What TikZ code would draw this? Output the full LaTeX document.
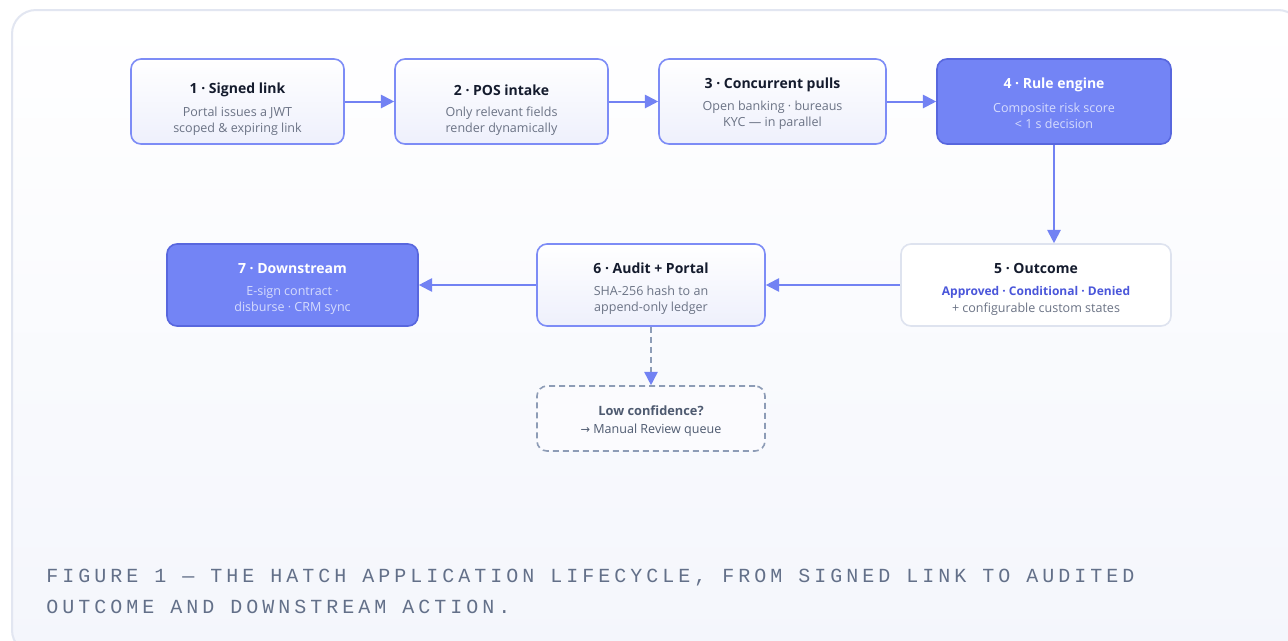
\documentclass[tikz,border=0pt]{standalone}
\usepackage{fontspec}
\setmainfont{Open Sans}
\newfontfamily\arrowfont{DejaVu Sans}
\newfontfamily\capfont[LetterSpace=20]{Liberation Mono}
\usetikzlibrary{arrows.meta,calc}

\definecolor{ink}{HTML}{141B2D}
\definecolor{subgray}{HTML}{6B7385}
\definecolor{flow}{HTML}{7282F3}
\definecolor{edgeblue}{HTML}{7D8CF6}
\definecolor{darkfill}{HTML}{7384F5}
\definecolor{darkedge}{HTML}{5867DE}
\definecolor{darksub}{HTML}{D6DCFD}
\definecolor{outblue}{HTML}{4A56DA}
\definecolor{paleedge}{HTML}{DEE3EF}
\definecolor{lightfoot}{HTML}{EEF0FC}
\definecolor{dashgray}{HTML}{8D9CB6}
\definecolor{capgray}{HTML}{637089}
\definecolor{frameedge}{HTML}{E2E6F1}
\definecolor{framefoot}{HTML}{F4F6FC}
\definecolor{reviewink}{HTML}{4E5A70}

\tikzset{
  sz/.style 2 args={minimum width=#1*0.75pt, minimum height=#2*0.75pt, inner sep=0pt},
  card/.style={rounded corners=7.5pt, line width=1.2pt},
  lightbox/.style={card, draw=edgeblue, top color=white, bottom color=lightfoot},
  darkbox/.style={card, draw=darkedge, fill=darkfill},
  plainbox/.style={card, draw=paleedge, fill=white},
  dashbox/.style={card, draw=dashgray, fill=white!60!framefoot, dash pattern=on 4.5pt off 3pt},
  ttl/.style={font=\fontsize{10.5pt}{12pt}\selectfont\bfseries, text=ink, inner sep=0pt},
  sub/.style={font=\fontsize{9.4pt}{12pt}\selectfont, text=subgray, align=center, inner sep=0pt},
  flowarrow/.style={draw=flow, line width=1.5pt, -{Triangle[length=10pt,width=10pt]}},
  caption/.style={font=\fontsize{15pt}{22pt}\selectfont\capfont, text=capgray, anchor=west, inner sep=0pt},
}

\begin{document}
\begin{tikzpicture}[x=0.75pt, y=-0.75pt]
  \useasboundingbox (0,0) rectangle (1288,640);
  \fill[white] (0,0) rectangle (1288,640);
  \begin{scope}
    \clip (0,0) rectangle (1288,640);
    \draw[frameedge, line width=1.5pt, rounded corners=18pt, top color=white, bottom color=framefoot]
      (12,10) rectangle (1302,654);
  \end{scope}

  % process cards
  \node[lightbox, sz={213}{85}] (b1) at (237.5,101.5) {};
  \node[lightbox, sz={213}{85}] (b2) at (501.5,101.5) {};
  \node[lightbox, sz={227}{85}] (b3) at (772.5,101.5) {};
  \node[darkbox,  sz={234}{85}] (b4) at (1054,101.5) {};
  \node[plainbox, sz={270}{82}] (b5) at (1036,285) {};
  \node[lightbox, sz={228}{82}] (b6) at (651,285) {};
  \node[darkbox,  sz={251}{82}] (b7) at (292.5,285) {};
  \node[dashbox,  sz={228}{65}] (b8) at (651,418.5) {};

  % card texts
  \node[ttl] (t1) at ($(b1.north)+(0,32)$) {1 · Signed link};
  \node[sub] (s1) at ($(b1.north)+(0,63.5)$) {Portal issues a JWT\\scoped \& expiring link};
  \node[ttl] (t2) at ($(b2.north)+(0,32)$) {2 · POS intake};
  \node[sub] (s2) at ($(b2.north)+(0,63.5)$) {Only relevant fields\\render dynamically};
  \node[ttl] (t3) at ($(b3.north)+(0,27)$) {3 · Concurrent pulls};
  \node[sub] (s3) at ($(b3.north)+(0,57.5)$) {Open banking · bureaus\\KYC — in parallel};
  \node[ttl, text=white] (t4) at ($(b4.north)+(0,27)$) {4 · Rule engine};
  \node[sub, text=darksub] (s4) at ($(b4.north)+(0,57.5)$) {Composite risk score\\< 1 s decision};
  \node[ttl] (t5) at ($(b5.north)+(0,25)$) {5 · Outcome};
  \node[sub, text=outblue, font=\fontsize{9pt}{12pt}\selectfont\bfseries] (s5a) at ($(b5.north)+(0,49)$) {Approved · Conditional · Denied};
  \node[sub] (s5b) at ($(b5.north)+(0,66)$) {+ configurable custom states};
  \node[ttl] (t6) at ($(b6.north)+(0,25)$) {6 · Audit + Portal};
  \node[sub] (s6) at ($(b6.north)+(0,57.5)$) {SHA-256 hash to an\\append-only ledger};
  \node[ttl, text=white] (t7) at ($(b7.north)+(0,25)$) {7 · Downstream};
  \node[sub, text=darksub] (s7) at ($(b7.north)+(0,57.5)$) {E-sign contract ·\\disburse · CRM sync};
  \node[ttl, text=reviewink, font=\fontsize{9.6pt}{12pt}\selectfont\bfseries] (t8) at ($(b8.north)+(0,25)$) {Low confidence?};
  \node[sub, text=reviewink] (s8) at ($(b8.north)+(0,45)$) {{\arrowfont\fontsize{8.5pt}{12pt}\selectfont →} Manual Review queue};

  % connectors
  \draw[flowarrow] (b1.east) -- (b2.west);
  \draw[flowarrow] (b2.east) -- (b3.west);
  \draw[flowarrow] (b3.east) -- (b4.west);
  \draw[flowarrow] (b4.south) -- (b4.south |- b5.north);
  \draw[flowarrow] (b5.west) -- (b6.east);
  \draw[flowarrow] (b6.west) -- (b7.east);
  \draw[draw=dashgray, line width=1.2pt, dash pattern=on 4.5pt off 3pt,
        -{Triangle[length=10pt,width=10pt,color=flow]}] (b6.south) -- (b8.north);

  % caption
  \node[caption] (cap1) at (46,578) {FIGURE 1 — THE HATCH APPLICATION LIFECYCLE, FROM SIGNED LINK TO AUDITED};
  \node[caption] (cap2) at (46,607) {OUTCOME AND DOWNSTREAM ACTION.};
\end{tikzpicture}
\end{document}
